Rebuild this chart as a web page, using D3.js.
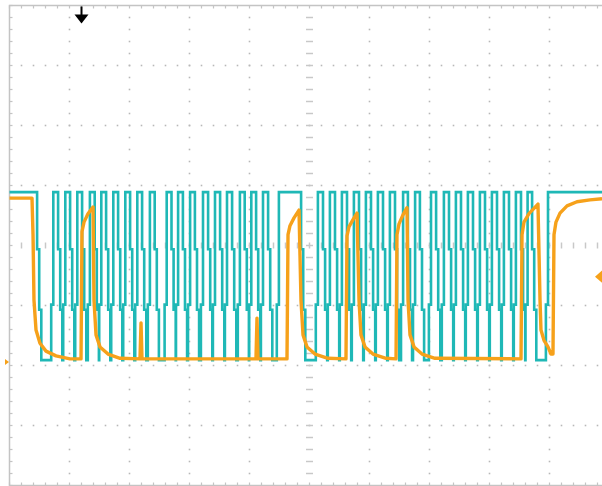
<!DOCTYPE html>
<html>
<head>
<meta charset="utf-8">
<script src="https://cdn.jsdelivr.net/npm/d3@7"></script>
<style>
  html, body { margin: 0; padding: 0; background: #fff; }
  svg { display: block; }
</style>
</head>
<body>
<div id="scope"></div>
<script>
const WIDTH = 602, HEIGHT = 486;
const plot = {left: 9.5, top: 5.5, width: 600, height: 480};

// time in us (10 us/div), level in volts (1 V/div)
const timeDomain = [0, 100];
const voltDomain = [-4, 4];
const majorTimeTicks = d3.range(0, 101, 10);
const minorTimeTicks = d3.range(0, 100.1, 2);
const majorVoltTicks = d3.range(-4, 4.1, 1);
const minorVoltTicks = d3.range(-4, 4.01, 0.2);

const triggerTime = 12.0;
const ch2Offset = -0.52;
const ch2Ground = -1.94;

// channel 1 (cyan): high / low levels and the intervals where it is high
const cyanHigh = 0.89;
const cyanLow = -1.91;
const cyanPulses = [
  [0, 4.6],
  [7.3, 8.1], [9.3, 10.1], [11.3, 12.1], [13.4, 14.2], [15.3, 16.1],
  [17.3, 18.1], [19.3, 20.1], [21.3, 22.1], [23.4, 24.2],
  [26.2, 27.0], [28.1, 28.9], [30.1, 30.9], [32.25, 33.1], [34.25, 35.1],
  [36.25, 37.1], [38.4, 39.2], [40.3, 41.1], [42.25, 43.1],
  [44.9, 48.6],
  [51.4, 52.25], [53.4, 54.25], [55.4, 56.25], [57.4, 58.25], [59.4, 60.25],
  [61.4, 62.25], [63.4, 64.25], [65.6, 66.4], [67.6, 68.4],
  [70.25, 71.1], [72.4, 73.25], [74.4, 75.25], [76.4, 77.25], [78.4, 79.25],
  [80.4, 81.25], [82.4, 83.25], [84.4, 85.25], [86.35, 87.1],
  [89.75, 100]
];

// channel 2 (orange): sampled trace
const orangeTime = [
  0, 3.75, 3.92, 4.08, 4.42, 5.08, 6.08, 7.75, 10.08, 11.92,
  12.08, 12.42, 13.08, 13.92, 14.08, 14.42, 15.08, 16.42, 18.42, 21.75,
  21.92, 22.08, 41.08, 41.25, 41.42, 46.25, 46.42, 46.75, 47.42, 48.25,
  48.58, 48.92, 49.58, 50.92, 53.08, 56.08, 56.25, 56.58, 57.25, 57.92,
  58.25, 58.58, 59.25, 60.58, 62.75, 64.42, 64.58, 64.92, 65.58, 66.25,
  66.42, 66.75, 67.42, 68.75, 70.92, 85.25, 85.42, 85.75, 86.58, 88.08,
  88.42, 88.58, 89.08, 89.75, 90.25, 90.58, 90.75, 91.08, 91.75, 92.92,
  94.58, 96.75, 98.75
];
const orangeVolt = [
  0.79, 0.79, 0.18, -0.91, -1.41, -1.63, -1.76, -1.84, -1.89, -1.89,
  0.23, 0.39, 0.53, 0.64, -0.91, -1.49, -1.69, -1.81, -1.88, -1.89,
  -1.29, -1.89, -1.89, -1.21, -1.89, -1.89, 0.18, 0.33, 0.46, 0.59,
  -0.91, -1.49, -1.69, -1.81, -1.88, -1.89, 0.16, 0.31, 0.43, 0.54,
  -0.91, -1.49, -1.69, -1.81, -1.88, -1.89, 0.18, 0.36, 0.51, 0.63,
  -0.91, -1.49, -1.69, -1.81, -1.88, -1.89, 0.18, 0.39, 0.53, 0.69,
  -0.91, -1.41, -1.58, -1.69, -1.81, -1.81, 0.18, 0.39, 0.54, 0.66,
  0.73, 0.76, 0.78
];

const CYAN = "#1fb8b6";
const ORANGE = "#f6a11a";
const GRID = "#c4c4c4";

let svg = d3.select("#scope")
  .append("svg")
  .attr("width", WIDTH)
  .attr("height", HEIGHT);

svg.append("rect").attr("width", WIDTH).attr("height", HEIGHT).attr("fill", "#fff");

let x = d3.scaleLinear().domain(timeDomain).range([plot.left, plot.left + plot.width]);
let y = d3.scaleLinear().domain(voltDomain).range([plot.top + plot.height, plot.top]);

let grid = svg.append("g");

// frame
grid.append("rect")
  .attr("x", x(0))
  .attr("y", y(4))
  .attr("width", x(100) - x(0))
  .attr("height", y(-4) - y(4))
  .attr("fill", "none")
  .attr("stroke", GRID)
  .attr("stroke-width", 1.5);

// small ticks on the frame
let frameTicks = [];
minorTimeTicks.forEach(function(t) {
  frameTicks.push([x(t), y(4), x(t), y(4) + 3]);
  frameTicks.push([x(t), y(-4), x(t), y(-4) - 3]);
});
minorVoltTicks.forEach(function(v) {
  frameTicks.push([x(0), y(v), x(0) + 3, y(v)]);
});
grid.selectAll(".ftick").data(frameTicks).enter()
  .append("line")
  .attr("class", "ftick")
  .attr("x1", function(d) { return d[0]; })
  .attr("y1", function(d) { return d[1]; })
  .attr("x2", function(d) { return d[2]; })
  .attr("y2", function(d) { return d[3]; })
  .attr("stroke", GRID)
  .attr("stroke-width", 1.2);

// dotted major grid
let dots = [];
majorTimeTicks.filter(function(t) { return t > 0 && t < 100 && t !== 50; }).forEach(function(t) {
  minorVoltTicks.filter(function(v) { return Math.abs(v) < 3.99; }).forEach(function(v) {
    dots.push([x(t), y(v)]);
  });
});
majorVoltTicks.filter(function(v) { return Math.abs(v) < 3.99 && v !== 0; }).forEach(function(v) {
  minorTimeTicks.filter(function(t) { return t > 0 && t < 100; }).forEach(function(t) {
    dots.push([x(t), y(v)]);
  });
});
grid.selectAll(".dot").data(dots).enter()
  .append("rect")
  .attr("class", "dot")
  .attr("x", function(d) { return d[0] - 0.8; })
  .attr("y", function(d) { return d[1] - 0.8; })
  .attr("width", 1.6)
  .attr("height", 1.6)
  .attr("fill", "#b8b8b8");

// centre axes with short marks
let centre = [];
minorVoltTicks.filter(function(v) { return Math.abs(v) < 3.99; }).forEach(function(v) {
  centre.push([x(50) - 3.5, y(v), x(50) + 3.5, y(v)]);
});
minorTimeTicks.filter(function(t) { return t > 0 && t < 100; }).forEach(function(t) {
  centre.push([x(t), y(0) - 3, x(t), y(0) + 3]);
});
grid.selectAll(".ctick").data(centre).enter()
  .append("line")
  .attr("class", "ctick")
  .attr("x1", function(d) { return d[0]; })
  .attr("y1", function(d) { return d[1]; })
  .attr("x2", function(d) { return d[2]; })
  .attr("y2", function(d) { return d[3]; })
  .attr("stroke", "#c8c8c8")
  .attr("stroke-width", 1.5);

// cyan trace: pulses with stepped edges
const edgeStep = 0.35;
function lvl(f) { return cyanLow + f * (cyanHigh - cyanLow); }
let cyanPts = [];
cyanPulses.forEach(function(p) {
  let s = p[0], e = p[1];
  if (s > 0) {
    cyanPts.push([s - edgeStep, cyanLow], [s - edgeStep, lvl(0.33)], [s, lvl(0.33)], [s, cyanHigh]);
  } else {
    cyanPts.push([s, cyanHigh]);
  }
  if (e < 100) {
    cyanPts.push([e, cyanHigh], [e, lvl(0.66)], [e + edgeStep, lvl(0.66)],
      [e + edgeStep, lvl(0.3)], [e + 2 * edgeStep, lvl(0.3)], [e + 2 * edgeStep, cyanLow]);
  } else {
    cyanPts.push([e, cyanHigh]);
  }
});

let line = d3.line()
  .x(function(d) { return x(d[0]); })
  .y(function(d) { return y(d[1]); });

svg.append("path")
  .attr("d", line(cyanPts))
  .attr("fill", "none")
  .attr("stroke", CYAN)
  .attr("stroke-width", 2.6);

// orange trace
let orangePts = orangeTime.map(function(t, i) { return [t, orangeVolt[i]]; });
svg.append("path")
  .attr("d", line(orangePts))
  .attr("fill", "none")
  .attr("stroke", ORANGE)
  .attr("stroke-width", 3.4)
  .attr("stroke-linejoin", "round");

// trigger marker
let tx = x(triggerTime);
svg.append("line")
  .attr("x1", tx).attr("y1", y(4) + 1)
  .attr("x2", tx).attr("y2", y(4) + 11)
  .attr("stroke", "#000")
  .attr("stroke-width", 2);
svg.append("path")
  .attr("d", `M${tx - 7},${y(4) + 9} L${tx + 7},${y(4) + 9} L${tx},${y(4) + 18} Z`)
  .attr("fill", "#000");

// channel 2 markers
let oy = y(ch2Offset);
svg.append("path")
  .attr("d", `M${595},${oy} L${603},${oy - 7} L${603},${oy + 7} Z`)
  .attr("fill", ORANGE);
let gy = y(ch2Ground);
svg.append("path")
  .attr("d", `M${5},${gy - 3} L${9},${gy} L${5},${gy + 3} Z`)
  .attr("fill", ORANGE);
</script>
</body>
</html>
